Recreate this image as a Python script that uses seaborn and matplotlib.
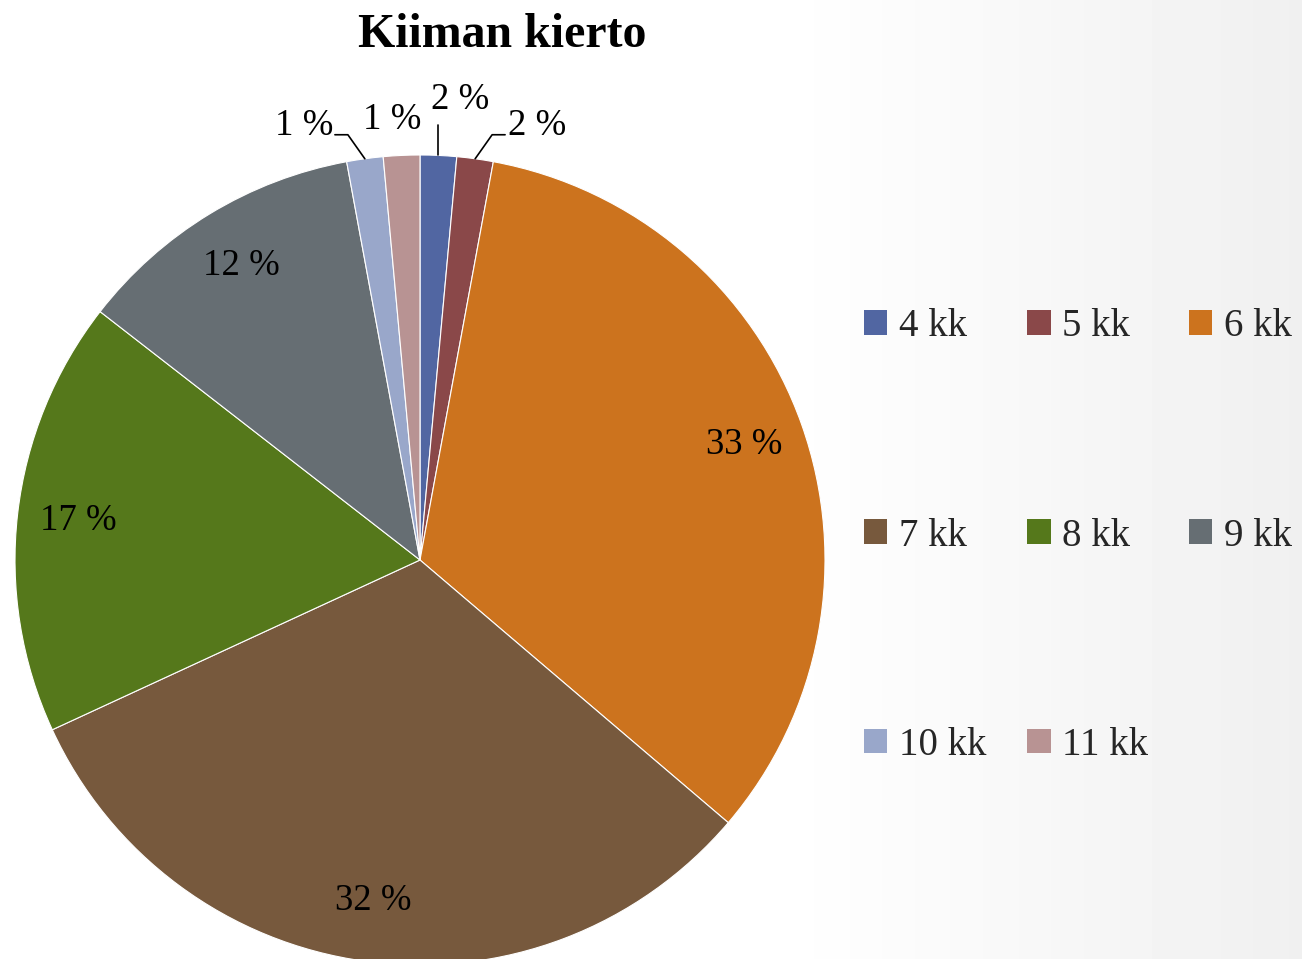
import seaborn as sns
import matplotlib.pyplot as plt
from matplotlib.patches import Patch
import numpy as np

# data
categories = ["4 kk", "5 kk", "6 kk", "7 kk", "8 kk", "9 kk", "10 kk", "11 kk"]
counts = [1, 1, 23, 22, 12, 8, 1, 1]
colors = ["#5166A2", "#8A4849", "#CC731E", "#77593D", "#55781B", "#666E73", "#99A7CA", "#B89393"]
title = "Kiiman kierto"


def rounded_pct(vals):
    # percentages that sum to 100 (largest remainder, like Excel labels)
    raw = np.array(vals, dtype=float) / np.sum(vals) * 100
    fl = np.floor(raw)
    rem = raw - fl
    need = int(round(100 - fl.sum()))
    order = np.argsort(-rem, kind="stable")
    fl[order[:need]] += 1
    return fl.astype(int)


sns.set_theme(style="white")
plt.rcParams["font.family"] = ["Liberation Serif", "DejaVu Serif"]
palette = sns.color_palette(colors)

W, H = 1302, 959
fig = plt.figure(figsize=(W / 100, H / 100), dpi=100)

# soft background gradient (white -> light grey on the right)
bg = fig.add_axes([0, 0, 1, 1], zorder=-1)
xs = np.linspace(0, 1, 400)
g = np.where(xs < 0.6, 1.0, 1.0 - (xs - 0.6) / 0.4 * 0.06)
bg.imshow(np.tile(g, (10, 1)), cmap="gray", vmin=0, vmax=1, aspect="auto",
          extent=[0, 1, 0, 1])
bg.axis("off")

# pie axes: centre (420, 560) px, radius 405 px
cx, cy, r = 420, 560, 405
ax = fig.add_axes([(cx - r) / W, (H - cy - r) / H, 2 * r / W, 2 * r / H])
ax.set_facecolor("none")

wedges, _ = ax.pie(counts, colors=palette, startangle=90, counterclock=False,
                   radius=1.0, wedgeprops=dict(edgecolor="white", linewidth=0.8))
ax.set_xlim(-1, 1)
ax.set_ylim(-1, 1)
ax.set_aspect("equal")
ax.axis("off")

pcts = rounded_pct(counts)
total = sum(counts)
cum = np.cumsum([0] + counts)
mids = 90 - 360 * (cum[:-1] + np.array(counts) / 2) / total  # math degrees

# outside label layout for the thin slices: (angle shift clockwise, radius)
outside = {0: (2.4, 1.14), 1: (7.3, 1.11), 6: (-7.1, 1.11), 7: (-1.0, 1.09)}

for i, (m, p) in enumerate(zip(mids, pcts)):
    txt = f"{p} %"
    if i in outside:
        shift, rr = outside[i]
        a = np.radians(m - shift)
        ax.text(rr * np.cos(a), rr * np.sin(a), txt, ha="center", va="center",
                fontsize=26.5, color="black", clip_on=False)
        am = np.radians(m)
        x0, y0 = np.cos(am), np.sin(am)
        if i == 0:
            ax.plot([x0, x0], [y0, 1.075 * y0], color="black", lw=1.2, clip_on=False)
        elif i in (1, 6):
            sgn = 1 if i == 1 else -1
            ae = np.radians(m - sgn * 1.8)
            xe, ye = 1.065 * np.cos(ae), 1.065 * np.sin(ae)
            ax.plot([x0, xe, xe + sgn * 0.032], [y0, ye, ye], color="black",
                    lw=1.2, clip_on=False)
    else:
        a = np.radians(m)
        ax.text(0.85 * np.cos(a), 0.85 * np.sin(a), txt, ha="center",
                va="center", fontsize=26.5, color="black")

fig.text(502 / W, 1 - 35 / H, title, ha="center", va="center",
         fontsize=34.5, fontweight="bold", color="black")

# legend, filled row-wise like the original
order = [0, 3, 6, 1, 4, 7, 2, 5]
handles = [Patch(facecolor=palette[i], edgecolor="none") for i in order]
labels = [categories[i] for i in order]
fig.legend(handles, labels, ncol=3, loc="center left",
           bbox_to_anchor=(864 / W, 1 - 536 / H), frameon=False,
           fontsize=28, handlelength=0.6, handleheight=0.6, handletextpad=0.3,
           columnspacing=1.05, labelspacing=4.43, borderpad=0, borderaxespad=0)

fig.savefig("out.png", dpi=100)
